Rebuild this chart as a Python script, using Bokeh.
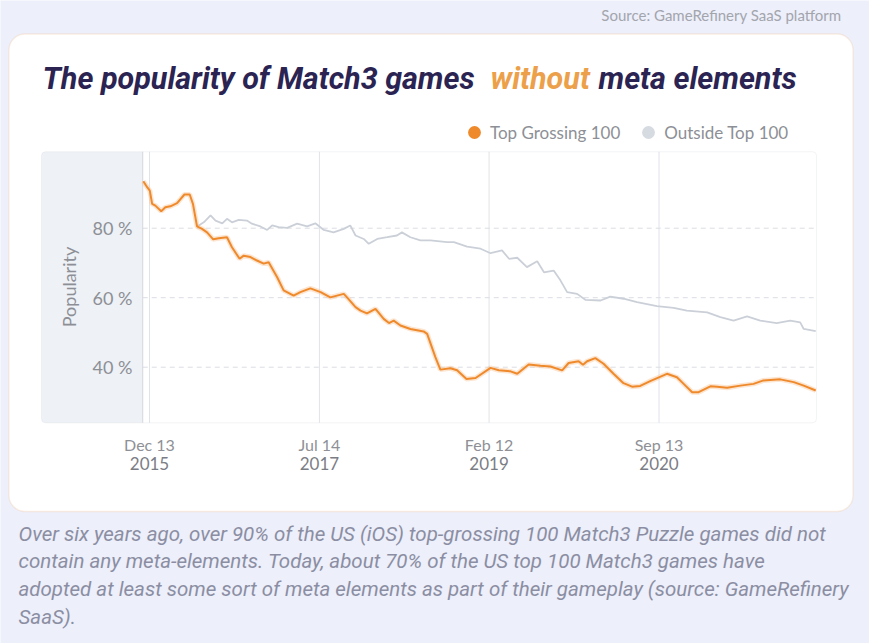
import pandas as pd
from bokeh.plotting import figure
from bokeh.models import (Range1d, FixedTicker, LinearAxis, DatetimeAxis, DatetimeTickFormatter,
                          PrintfTickFormatter, BoxAnnotation, Label, Legend, LegendItem)
from bokeh.embed import file_html
from bokeh.resources import INLINE

# ---------------- data ----------------
series_names = ["Top Grossing 100", "Outside Top 100"]

top_dates = ["2015-11-22", "2015-12-05", "2015-12-14", "2015-12-22", "2016-01-02", "2016-01-22", "2016-02-05",
             "2016-02-22", "2016-03-16", "2016-04-10", "2016-04-28", "2016-05-09", "2016-05-23", "2016-06-09",
             "2016-06-26", "2016-07-17", "2016-08-05", "2016-09-02", "2016-09-19", "2016-10-15", "2016-10-29",
             "2016-11-21", "2016-12-13", "2017-01-05", "2017-01-22", "2017-02-20", "2017-03-14", "2017-04-17",
             "2017-05-10", "2017-06-13", "2017-07-18", "2017-08-20", "2017-10-05", "2017-10-16", "2017-11-14",
             "2017-12-01", "2017-12-23", "2018-01-21", "2018-02-18", "2018-03-08", "2018-03-24", "2018-04-16",
             "2018-05-20", "2018-07-04", "2018-07-16", "2018-08-13", "2018-08-30", "2018-10-03", "2018-10-26",
             "2018-11-27", "2018-12-28", "2019-02-17", "2019-03-17", "2019-04-26", "2019-05-19", "2019-06-27",
             "2019-08-06", "2019-09-09", "2019-10-19", "2019-11-10", "2019-12-14", "2019-12-29", "2020-01-12",
             "2020-02-09", "2020-03-08", "2020-04-11", "2020-05-15", "2020-06-13", "2020-07-11", "2020-08-14",
             "2020-10-10", "2020-11-13", "2020-12-06", "2021-01-04", "2021-01-26", "2021-03-07", "2021-03-30",
             "2021-05-03", "2021-06-17", "2021-08-01", "2021-09-04", "2021-10-31", "2021-12-16", "2022-01-19",
             "2022-03-01"]
top_values = [93.5, 91.8, 90.8, 87.0, 86.5, 84.9, 86.0, 86.3, 87.2, 89.7,
              89.7, 87.0, 80.5, 79.8, 78.8, 76.8, 77.1, 77.4, 74.5, 71.2,
              72.1, 71.7, 70.7, 69.8, 70.2, 65.9, 62.1, 60.6, 61.6, 62.7,
              61.6, 60.1, 61.1, 60.1, 57.3, 56.3, 55.5, 56.8, 53.9, 52.7,
              53.4, 52.0, 51.0, 50.3, 49.6, 42.9, 39.3, 39.7, 39.1, 36.6,
              36.9, 39.8, 39.1, 38.8, 38.1, 40.8, 40.4, 40.2, 39.1, 41.2,
              41.7, 40.7, 41.7, 42.6, 41.0, 38.1, 35.4, 34.4, 34.6, 36.0,
              38.1, 37.1, 35.2, 32.8, 32.8, 34.5, 34.4, 34.1, 34.7, 35.2,
              36.2, 36.5, 35.7, 34.7, 33.3]

outside_dates = ["2016-05-23", "2016-06-15", "2016-07-08", "2016-07-25", "2016-08-17", "2016-09-02", "2016-09-19",
                 "2016-10-12", "2016-11-09", "2016-11-26", "2016-12-25", "2017-01-17", "2017-02-03", "2017-02-25",
                 "2017-03-26", "2017-04-29", "2017-06-02", "2017-06-30", "2017-07-29", "2017-08-31", "2017-10-05",
                 "2017-10-27", "2017-11-14", "2017-12-12", "2017-12-29", "2018-01-27", "2018-03-02", "2018-04-04",
                 "2018-04-21", "2018-05-20", "2018-06-23", "2018-07-27", "2018-09-22", "2018-10-15", "2018-11-29",
                 "2019-01-14", "2019-02-17", "2019-03-28", "2019-04-21", "2019-05-19", "2019-06-21", "2019-07-26",
                 "2019-08-18", "2019-09-20", "2019-10-13", "2019-11-05", "2019-12-09", "2020-01-06", "2020-02-27",
                 "2020-03-31", "2020-05-15", "2020-06-30", "2020-09-06", "2020-11-02", "2020-12-17", "2021-02-24",
                 "2021-04-10", "2021-05-25", "2021-07-10", "2021-08-24", "2021-10-19", "2021-12-04", "2022-01-07",
                 "2022-01-19", "2022-03-01"]
outside_values = [80.5, 81.7, 83.7, 82.2, 81.4, 82.7, 81.7, 82.4, 82.2, 81.3,
                  80.5, 79.5, 80.8, 80.3, 80.1, 81.3, 80.5, 81.4, 79.5, 78.8,
                  79.8, 80.8, 77.9, 76.9, 75.5, 76.9, 77.4, 77.9, 78.8, 77.4,
                  76.5, 76.5, 76.0, 76.0, 74.7, 74.1, 72.8, 73.6, 71.2, 71.5,
                  68.8, 70.5, 67.3, 67.8, 65.0, 61.6, 61.1, 59.4, 59.2, 60.3,
                  59.7, 58.7, 57.6, 57.1, 56.3, 55.8, 54.4, 53.4, 54.6, 53.4,
                  52.7, 53.4, 52.9, 51.0, 50.4]

tick_dates = ["2015-12-13", "2017-07-14", "2019-02-12", "2020-09-13"]
y_ticks = [40, 60, 80]
y_label = "Popularity"

title_parts = ["The popularity of Match3 games", "without", "meta elements"]
source_note = "Source: GameRefinery SaaS platform"
caption_lines = [
    "Over six years ago, over 90% of the US (iOS) top-grossing 100 Match3 Puzzle games did not",
    "contain any meta-elements. Today, about 70% of the US top 100 Match3 games have",
    "adopted at least some sort of meta elements as part of their gameplay (source: GameRefinery",
    "SaaS).",
]

# ---------------- layout constants ----------------
W, H = 869, 643
ANCHOR = pd.Timestamp(tick_dates[0])      # first tick date
ANCHOR_PX = 149.0                         # its horizontal pixel position
PX_PER_DAY = 0.2935
Y_ANCHOR, Y_ANCHOR_PX, PX_PER_UNIT = 40.0, 366.7, 3.475

def ms(d):
    return pd.Timestamp(d).timestamp() * 1000.0

def date_at(px):
    return ANCHOR + pd.Timedelta(days=(px - ANCHOR_PX) / PX_PER_DAY)

def val_at(py):
    return Y_ANCHOR + (Y_ANCHOR_PX - py) / PX_PER_UNIT

def sy(py):           # screen units are measured from the bottom edge
    return H - py

AREA_L, AREA_R = date_at(41), date_at(816)     # plot area of the chart
AREA_B, AREA_T = 24.0, 102.0
BAND_END = pd.Timestamp("2015-11-20")           # shaded band left of the data

top_x = pd.to_datetime(top_dates)
out_x = pd.to_datetime(outside_dates)
tick_ms = [ms(d) for d in tick_dates]

CHART_FONT = "Lato"
ORANGE = "#ef8a2c"
GREY = "#cbd0d8"
LABEL_GREY = "#8d8f96"

p = figure(width=W, height=H, output_backend="svg", toolbar_location=None,
           x_axis_location=None, y_axis_location=None,
           x_range=Range1d(date_at(0), date_at(W)),
           y_range=Range1d(val_at(H), val_at(0)),
           min_border=0, min_border_left=0, min_border_right=0, min_border_top=0, min_border_bottom=0)
p.background_fill_color = "#edeffb"
p.border_fill_color = "#edeffb"
p.outline_line_color = None
p.grid.visible = False

# card
p.add_layout(BoxAnnotation(left=8.5, right=852.5, top=sy(33.5), bottom=sy(511),
                           left_units="screen", right_units="screen", top_units="screen", bottom_units="screen",
                           fill_color="#ffffff", fill_alpha=1.0, line_color="#f2c7a0", line_width=1.3,
                           border_radius=16, level="image"))
# plot area + shaded band
p.add_layout(BoxAnnotation(left=AREA_L, right=AREA_R, bottom=AREA_B, top=AREA_T,
                           fill_color="#ffffff", fill_alpha=1.0, line_color=None,
                           border_radius=4, level="image"))
p.add_layout(BoxAnnotation(left=AREA_L, right=BAND_END, bottom=AREA_B, top=AREA_T,
                           fill_color="#eef1f5", fill_alpha=1.0, line_color=None,
                           border_radius=(4, 0, 0, 4), level="image"))

# grid lines (from tick arrays)
n = len(tick_dates)
p.segment(x0=pd.to_datetime(tick_dates), y0=[AREA_B] * n, x1=pd.to_datetime(tick_dates), y1=[AREA_T] * n,
          line_color="#e1e3e8", line_width=1)
m = len(y_ticks)
p.segment(x0=[BAND_END] * m, y0=y_ticks, x1=[AREA_R] * m, y1=y_ticks,
          line_color="#dadde3", line_width=1, line_dash="5 4")
p.segment(x0=[BAND_END], y0=[AREA_B], x1=[BAND_END], y1=[AREA_T], line_color="#d3d7de", line_width=1)

# lines
p.line(out_x, outside_values, line_color=GREY, line_width=1.8)
p.line(top_x, top_values, line_color="#f7b57a", line_alpha=0.35, line_width=5)
p.line(top_x, top_values, line_color=ORANGE, line_width=2)

# plot-area outline (on top of band / lines)
p.add_layout(BoxAnnotation(left=AREA_L, right=AREA_R, bottom=AREA_B, top=AREA_T,
                           fill_alpha=0, line_color="#d6d9df", line_width=1,
                           border_radius=4, level="overlay"))

# y axis inside the shaded band
yax = LinearAxis(fixed_location=ms(date_at(137)), bounds=(AREA_B, AREA_T),
                 ticker=FixedTicker(ticks=y_ticks), formatter=PrintfTickFormatter(format="%d %%"))
yax.axis_line_color = None
yax.major_tick_line_color = None
yax.minor_tick_line_color = None
yax.major_tick_out = 0
yax.major_tick_in = 0
yax.major_label_standoff = 5
yax.major_label_text_font = CHART_FONT
yax.major_label_text_font_size = "18px"
yax.major_label_text_color = LABEL_GREY
yax.axis_label = y_label
yax.axis_label_text_font = CHART_FONT
yax.axis_label_text_font_style = "normal"
yax.axis_label_text_font_size = "18px"
yax.axis_label_text_color = LABEL_GREY
yax.axis_label_standoff = 10
p.add_layout(yax, "left")

# x axes: day/month line, then year line
def dt_fmt(f):
    return DatetimeTickFormatter(milliseconds=f, seconds=f, minsec=f, minutes=f, hourmin=f,
                                 hours=f, days=f, months=f, years=f)

xax = DatetimeAxis(fixed_location=AREA_B, ticker=FixedTicker(ticks=tick_ms), formatter=dt_fmt("%b %d"))
xax2 = DatetimeAxis(fixed_location=AREA_B, ticker=FixedTicker(ticks=tick_ms), formatter=dt_fmt("%Y"))
for ax, col, stand, fs in ((xax, "#8e9096", 12, "16px"), (xax2, "#7b7d85", 34, "17px")):
    ax.axis_line_color = None
    ax.major_tick_line_color = None
    ax.minor_tick_line_color = None
    ax.major_tick_out = 0
    ax.major_tick_in = 0
    ax.major_label_standoff = stand
    ax.major_label_text_font = CHART_FONT
    ax.major_label_text_font_size = fs
    ax.major_label_text_color = col
    p.add_layout(ax, "below")

# legend (markers of size 0 on the series, so only the legend swatch shows)
r1 = p.scatter(x=top_x, y=top_values, marker="circle", size=0, fill_color=ORANGE, line_color=None)
r2 = p.scatter(x=out_x, y=outside_values, marker="circle", size=0, fill_color="#d6dae1", line_color=None)
legend = Legend(items=[LegendItem(label=series_names[0], renderers=[r1]),
                       LegendItem(label=series_names[1], renderers=[r2])],
                orientation="horizontal", location=(458, sy(148)),
                glyph_width=32, glyph_height=32, label_standoff=0, spacing=12,
                padding=0, margin=0, border_line_color=None, background_fill_alpha=0,
                label_text_font=CHART_FONT, label_text_font_size="17px", label_text_color=LABEL_GREY)
p.add_layout(legend)

# title (three parts, middle one highlighted)
title_x = [42, 490, 598]
title_col = ["#2b2453", "#eda04a", "#2b2453"]
for t, x0, c in zip(title_parts, title_x, title_col):
    p.add_layout(Label(x=x0, y=sy(78), x_units="screen", y_units="screen", text=t,
                       text_font="Roboto", text_font_style="bold italic", text_font_size="30.5px",
                       text_color=c, text_baseline="middle", text_align="left"))

# source note
p.add_layout(Label(x=841, y=sy(14), x_units="screen", y_units="screen", text=source_note,
                   text_font=CHART_FONT, text_font_size="15px", text_color="#a3a5ad",
                   text_baseline="middle", text_align="right"))

# caption
for i, line in enumerate(caption_lines):
    p.add_layout(Label(x=18, y=sy(533 + 27.7 * i), x_units="screen", y_units="screen", text=line,
                       text_font="Roboto", text_font_style="italic", text_font_size="20.5px",
                       text_color="#8b8ea2", text_baseline="middle", text_align="left"))

open("out.html", "w").write(file_html(p, INLINE))
